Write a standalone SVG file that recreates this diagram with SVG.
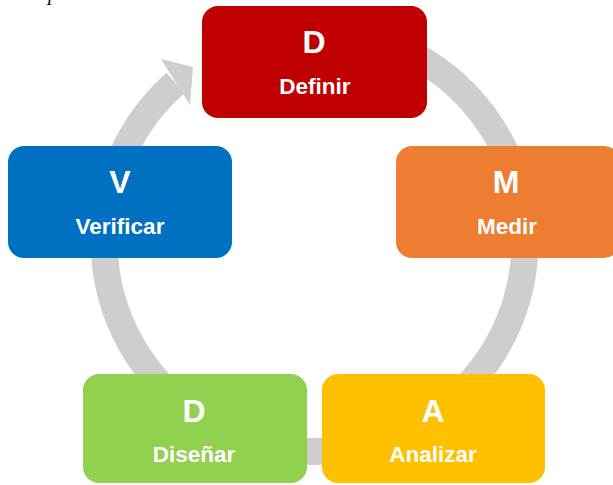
<svg xmlns="http://www.w3.org/2000/svg" width="613" height="485" viewBox="0 0 613 485">
<style>
.box{stroke:none}
.big{font-family:"Liberation Sans",Arial,sans-serif;font-weight:bold;font-size:32px;fill:#fff;text-anchor:middle}
.lbl{font-family:"Liberation Sans",Arial,sans-serif;font-weight:bold;font-size:22.5px;fill:#fff;text-anchor:middle}
</style>
<rect width="613" height="485" fill="#fff"/>
<text x="48" y="0" font-family="Liberation Serif,serif" font-style="italic" font-size="20" fill="#000">p</text>
<g id="connectors">
<path d="M175.5 83 A210.5 210.5 0 1 0 314 30.5" fill="none" stroke="#CFCDCE" stroke-width="27"/>
<polygon points="161,59 193,67 190,105" fill="#CFCDCE"/>
</g>
<g id="node-definir">
<rect class="box" x="202" y="6" width="225" height="112" rx="16" fill="#C00000"/>
<text class="big" x="314" y="53">D</text>
<text class="lbl" x="315" y="94">Definir</text>
</g>
<g id="node-medir">
<rect class="box" x="396" y="146" width="224" height="112" rx="16" fill="#ED7D31"/>
<text class="big" x="506" y="193">M</text>
<text class="lbl" x="507" y="234">Medir</text>
</g>
<g id="node-analizar">
<rect class="box" x="322" y="374" width="223" height="109" rx="16" fill="#FFC000"/>
<text class="big" x="433" y="422">A</text>
<text class="lbl" x="433" y="462">Analizar</text>
</g>
<g id="node-disenar">
<rect class="box" x="83" y="374" width="224" height="109" rx="16" fill="#92D050"/>
<text class="big" x="194" y="422">D</text>
<text class="lbl" x="194" y="462">Diseñar</text>
</g>
<g id="node-verificar">
<rect class="box" x="8" y="146" width="224" height="112" rx="16" fill="#0070C0"/>
<text class="big" x="120" y="193">V</text>
<text class="lbl" x="120" y="234">Verificar</text>
</g>
</svg>
